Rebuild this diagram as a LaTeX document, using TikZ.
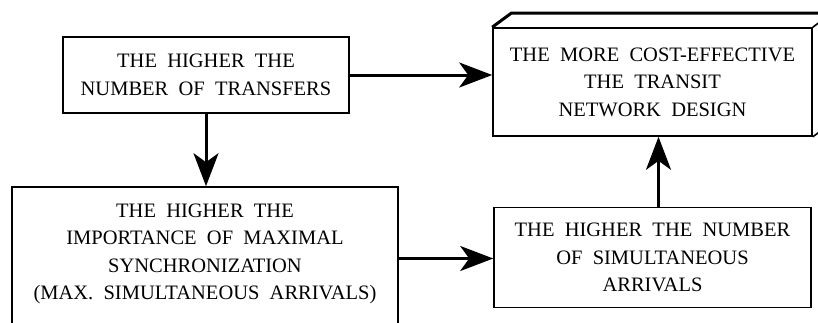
\documentclass[tikz,border=0pt]{standalone}
\usepackage{fontspec}
\setmainfont{Liberation Serif}
\usetikzlibrary{arrows.meta, calc}

\tikzset{
  box/.style={draw, line width=1.6pt, align=center, inner sep=0pt,
    font=\fontsize{20.5}{27.5}\selectfont},
  arr/.style={line width=3pt, -{Stealth[length=33pt, width=25pt, inset=9pt]}}
}

\begin{document}
\begin{tikzpicture}[x=1pt, y=-1pt]
\clip (0,0) rectangle (818,322);
\useasboundingbox (0,0) rectangle (818,322);
\node[box, minimum width=286pt, minimum height=76pt] (transfers) at (206,75) {THE\ \ HIGHER\ \ THE\\NUMBER\ \ OF\ \ TRANSFERS};
\node[box, minimum width=319pt, minimum height=108pt] (design) at (652.5,82) {THE\ \ MORE\ \ COST-EFFECTIVE\\THE\ \ TRANSIT\\NETWORK\ \ DESIGN};
\node[box, minimum width=386pt, minimum height=143pt, text depth=14pt] (sync) at (205,258.5) {THE\ \ HIGHER\ \ THE\\IMPORTANCE\ \ OF\ \ MAXIMAL\\SYNCHRONIZATION\\(MAX.\ \ SIMULTANEOUS\ \ ARRIVALS)};
\node[box, minimum width=317pt, minimum height=100pt] (arrivals) at (652.5,257.5) {THE\ \ HIGHER\ \ THE\ \ NUMBER\\OF\ \ SIMULTANEOUS\\ARRIVALS};
% depth of the 3d box
\draw[line width=3pt] (design.north west) -- ++(19,-14) -- ($(design.north east)+(19,-14)$);
\draw[line width=1.6pt] (design.north east) -- ++(19,-14) -- ($(design.south east)+(19,-14)$) -- (design.south east);
\draw[arr] (transfers.east) -- (transfers.east -| design.west);
\draw[arr] (transfers.south) -- (transfers.south |- sync.north);
\draw[arr] (sync.east) -- (sync.east -| arrivals.west);
\draw[arr] ([xshift=6pt]arrivals.north) -- ([xshift=6pt]design.south);
\end{tikzpicture}
\end{document}
